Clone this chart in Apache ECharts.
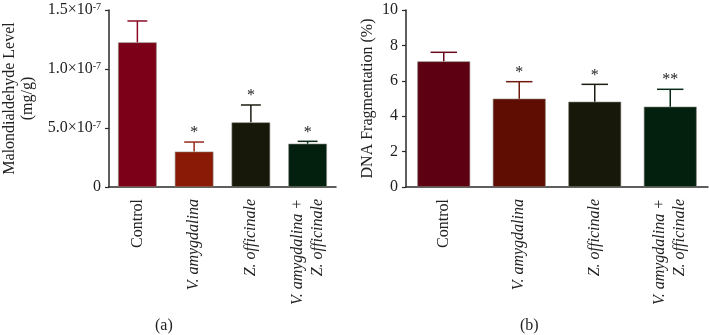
<!DOCTYPE html>
<html>
<head>
<meta charset="utf-8">
<script src="https://cdn.jsdelivr.net/npm/echarts@6/dist/echarts.min.js"></script>
<style>html,body{margin:0;padding:0;background:#fff;}#c{width:709px;height:335px;}</style>
</head>
<body>
<div id="c"></div>
<script>
// ---- data ----
const categories = ['Control', 'V. amygdalina', 'Z. officinale', 'V. amygdalina +\nZ. officinale'];
const categoryItalic = [false, true, true, true];

// (a) Malondialdehyde level (mg/g)
const mdaMean = [1.226e-7, 0.300e-7, 0.548e-7, 0.367e-7];
const mdaErr  = [0.181e-7, 0.081e-7, 0.147e-7, 0.020e-7];
const mdaSig  = ['', '*', '*', '*'];
const mdaTickLabels = ['0', '5.0×10^-7', '1.0×10^-7', '1.5×10^-7'];

// (b) DNA fragmentation (%)
const dnaMean = [7.10, 4.99, 4.82, 4.54];
const dnaErr  = [0.51, 0.96, 0.98, 0.98];
const dnaSig  = ['', '*', '*', '**'];
const dnaTickLabels = ['0', '2', '4', '6', '8', '10'];

// ---- styles ----
const FONT = '"Liberation Serif", "DejaVu Serif", serif';
const colorsA = ['#7d0019', '#8a1a05', '#17170a', '#03200f'];
const colorsB = ['#5c0012', '#5f0d02', '#17170a', '#03200f'];
const errColorsA = ['#8c0a26', '#962a1c', '#1c1c12', '#0a2a1a'];
const errColorsB = ['#6a0a1e', '#6e1a10', '#1c1c12', '#0a2a1a'];

const chart = echarts.init(document.getElementById('c'), null, {renderer: 'canvas'});

function catLabel(value, idx) {
  const k = categoryItalic[categories.indexOf(value)] ? 'i' : 'n';
  return value.split('\n').map(l => '{' + k + '|' + l + '}').join('\n');
}
const catRich = {
  n: {fontFamily: FONT, fontSize: 16, color: '#222', lineHeight: 20},
  i: {fontFamily: FONT, fontSize: 16, fontStyle: 'italic', color: '#222', lineHeight: 20}
};

function xAxisDef(gridIndex) {
  return {
    type: 'category', gridIndex, data: categories,
    axisLine: {lineStyle: {color: '#2a2a2a', width: 1.5}},
    axisTick: {alignWithLabel: true, length: 5, lineStyle: {color: '#2a2a2a', width: 1.2}},
    axisLabel: {rotate: 90, margin: 12, formatter: catLabel, rich: catRich, interval: 0}
  };
}

function makeErr(gridIndex, means, errs, sigs, errColors) {
  return {
    type: 'custom', xAxisIndex: gridIndex, yAxisIndex: gridIndex, z: 5,
    data: means.map((m, i) => [i, m, errs[i]]),
    renderItem: function (params, api) {
      const i = params.dataIndex;
      const x = api.value(0);
      const base = api.coord([x, api.value(1)]);
      const tp = api.coord([x, api.value(1) + api.value(2)]);
      const band = api.size([1, 0])[0];
      const hw = band * 0.175;
      const col = errColors[i];
      return {
        type: 'group',
        children: [
          {type: 'line', shape: {x1: base[0], y1: base[1], x2: tp[0], y2: tp[1]}, style: {stroke: col, lineWidth: 1.5}},
          {type: 'line', shape: {x1: tp[0] - hw, y1: tp[1], x2: tp[0] + hw, y2: tp[1]}, style: {stroke: col, lineWidth: 1.5}},
          {type: 'text', style: {text: sigs[i], x: tp[0], y: tp[1] - 1, align: 'center', verticalAlign: 'bottom', font: '16px ' + FONT, fill: '#222'}}
        ]
      };
    }
  };
}

const option = {
  animation: false,
  backgroundColor: '#fff',
  grid: [
    {left: 107, top: 10, width: 229, bottom: 148},
    {left: 406, top: 10, width: 302, bottom: 148}
  ],
  xAxis: [xAxisDef(0), xAxisDef(1)],
  yAxis: [
    {
      type: 'value', gridIndex: 0, min: 0, max: 1.5e-7, interval: 0.5e-7,
      name: 'Malondialdehyde Level\n(mg/g)', nameLocation: 'middle', nameRotate: 90, nameGap: 72,
      nameTextStyle: {fontFamily: FONT, fontSize: 16, color: '#222', lineHeight: 18},
      axisLine: {show: true, lineStyle: {color: '#2a2a2a', width: 1.5}},
      axisTick: {show: true, length: 4, lineStyle: {color: '#2a2a2a', width: 1.2}},
      splitLine: {show: false},
      axisLabel: {
        margin: 8,
        formatter: function (v) {
          const s = mdaTickLabels[Math.round(v / 0.5e-7)] || '';
          const p = s.split('^');
          return p.length > 1 ? '{b|' + p[0] + '}{s|' + p[1] + '}' : '{b|' + p[0] + '}';
        },
        rich: {
          b: {fontFamily: FONT, fontSize: 16, color: '#222', lineHeight: 16},
          s: {fontFamily: FONT, fontSize: 10, color: '#222', lineHeight: 10, verticalAlign: 'top', padding: [0, 0, 8, 0]}
        }
      }
    },
    {
      type: 'value', gridIndex: 1, min: 0, max: 10, interval: 2,
      name: 'DNA Fragmentation (%)', nameLocation: 'middle', nameRotate: 90, nameGap: 30,
      nameTextStyle: {fontFamily: FONT, fontSize: 16, color: '#222'},
      axisLine: {show: true, lineStyle: {color: '#2a2a2a', width: 1.5}},
      axisTick: {show: true, length: 4, lineStyle: {color: '#2a2a2a', width: 1.2}},
      splitLine: {show: false},
      axisLabel: {
        margin: 8, fontFamily: FONT, fontSize: 16, color: '#222',
        formatter: function (v) { return dnaTickLabels[Math.round(v / 2)] || ''; }
      }
    }
  ],
  series: [
    {
      type: 'bar', xAxisIndex: 0, yAxisIndex: 0, barWidth: '68%',
      data: mdaMean.map((v, i) => ({value: v, itemStyle: {color: colorsA[i], borderColor: '#8a8a80', borderWidth: 0.6}}))
    },
    makeErr(0, mdaMean, mdaErr, mdaSig, errColorsA),
    {
      type: 'bar', xAxisIndex: 1, yAxisIndex: 1, barWidth: '70%',
      data: dnaMean.map((v, i) => ({value: v, itemStyle: {color: colorsB[i], borderColor: '#8a8a80', borderWidth: 0.6}}))
    },
    makeErr(1, dnaMean, dnaErr, dnaSig, errColorsB)
  ],
  graphic: [
    {type: 'text', left: 165 - 10, top: 318, style: {text: '(a)', font: '16px ' + FONT, fill: '#222'}},
    {type: 'text', left: 530 - 10, top: 318, style: {text: '(b)', font: '16px ' + FONT, fill: '#222'}}
  ]
};
chart.setOption(option);
</script>
</body>
</html>
